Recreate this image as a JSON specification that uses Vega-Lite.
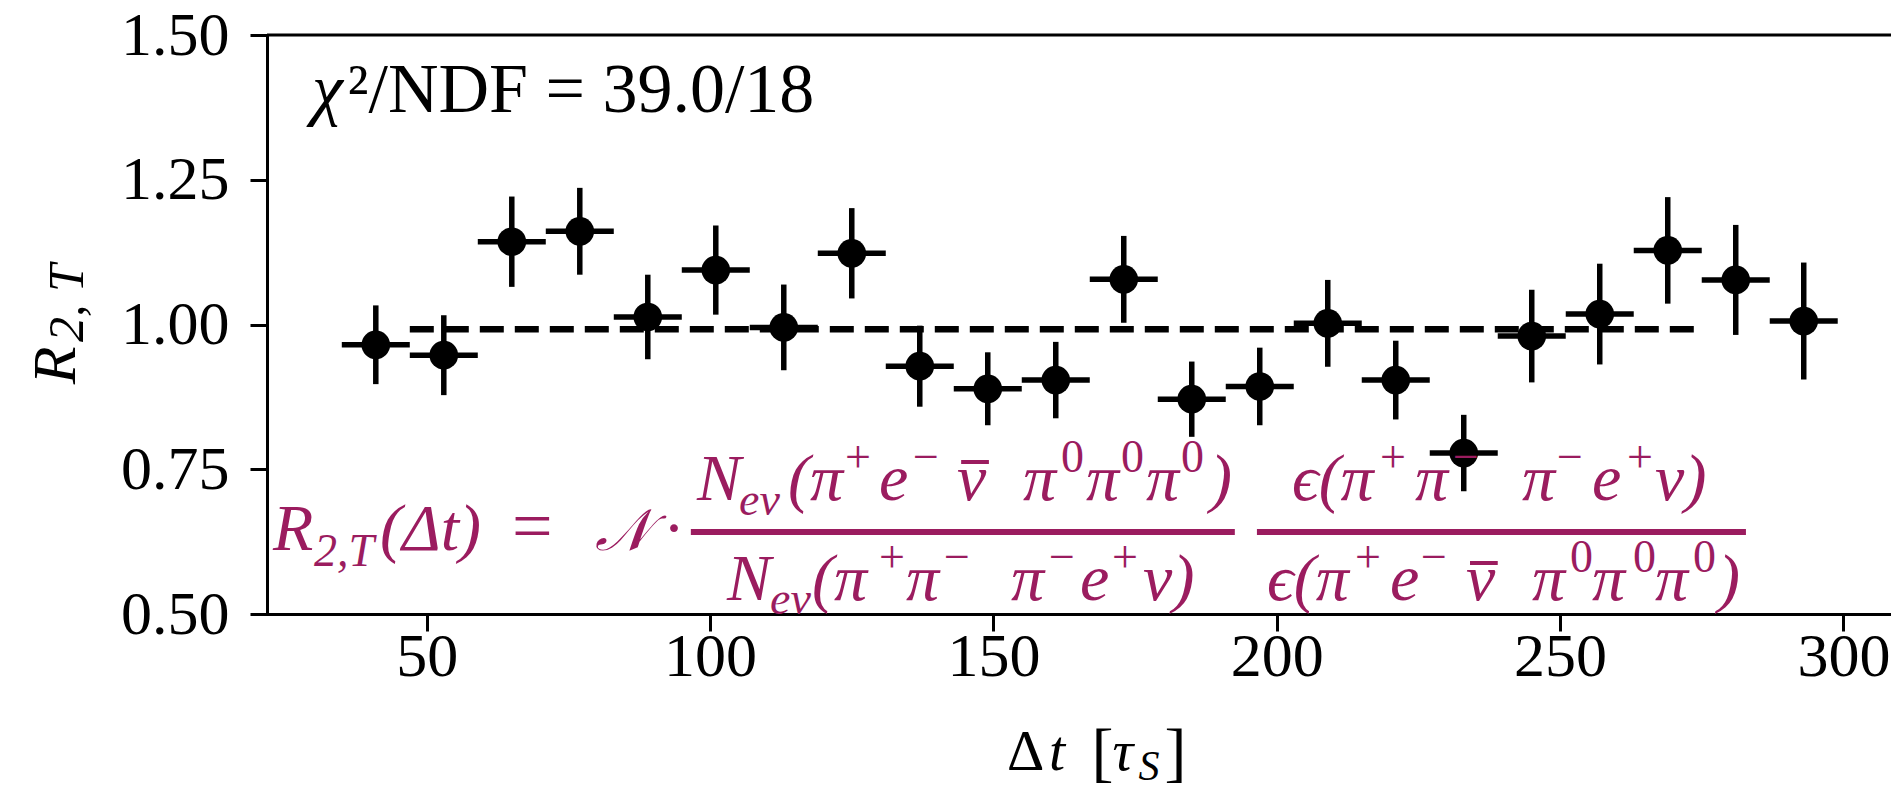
{
  "$schema": "https://vega.github.io/schema/vega-lite/v6.json",
  "autosize": {"type": "none"},
  "padding": {"left": 267, "top": 35, "right": 0, "bottom": 176},
  "width": 1624,
  "height": 579,
  "background": "white",
  "config": {
    "view": {"stroke": null},
    "axis": {
      "grid": false,
      "domainColor": "black",
      "domainWidth": 3,
      "domainCap": "square",
      "tickColor": "black",
      "tickWidth": 3,
      "tickSize": 17,
      "labelFont": "Liberation Serif",
      "labelFontSize": 62,
      "labelColor": "black",
      "labelFlush": false,
      "labelOverlap": false
    },
    "axisX": {"labelPadding": -5},
    "axisY": {"labelPadding": 21},
    "text": {"font": "Liberation Serif", "fontStyle": "italic", "fontSize": 66, "color": "#9b1c5f", "align": "left", "baseline": "alphabetic"}
  },
  "datasets": {
    "ratio": [
      {"t": 41, "dt": 6, "r": 0.965, "err": 0.068},
      {"t": 53, "dt": 6, "r": 0.947, "err": 0.069},
      {"t": 65, "dt": 6, "r": 1.143, "err": 0.078},
      {"t": 77, "dt": 6, "r": 1.161, "err": 0.075},
      {"t": 89, "dt": 6, "r": 1.013, "err": 0.073},
      {"t": 101, "dt": 6, "r": 1.094, "err": 0.077},
      {"t": 113, "dt": 6, "r": 0.995, "err": 0.074},
      {"t": 125, "dt": 6, "r": 1.123, "err": 0.078},
      {"t": 137, "dt": 6, "r": 0.928, "err": 0.070},
      {"t": 149, "dt": 6, "r": 0.889, "err": 0.063},
      {"t": 161, "dt": 6, "r": 0.904, "err": 0.066},
      {"t": 173, "dt": 6, "r": 1.078, "err": 0.075},
      {"t": 185, "dt": 6, "r": 0.871, "err": 0.065},
      {"t": 197, "dt": 6, "r": 0.893, "err": 0.067},
      {"t": 209, "dt": 6, "r": 1.002, "err": 0.075},
      {"t": 221, "dt": 6, "r": 0.904, "err": 0.068},
      {"t": 233, "dt": 6, "r": 0.778, "err": 0.066},
      {"t": 245, "dt": 6, "r": 0.980, "err": 0.080},
      {"t": 257, "dt": 6, "r": 1.018, "err": 0.087},
      {"t": 269, "dt": 6, "r": 1.128, "err": 0.092},
      {"t": 281, "dt": 6, "r": 1.077, "err": 0.095},
      {"t": 293, "dt": 6, "r": 1.006, "err": 0.101}
    ],
    "fit": [{"t0": 47, "t1": 275, "level": 0.992}],
    "one": [{}]
  },
  "layer": [
    {
      "data": {"name": "ratio"},
      "mark": {"type": "errorbar", "color": "black", "thickness": 5.5},
      "encoding": {
        "x": {"field": "t", "type": "quantitative", "scale": {"domain": [21.8, 308.4], "nice": false, "zero": false},
              "axis": {"values": [50, 100, 150, 200, 250, 300], "title": null}},
        "y": {"field": "r", "type": "quantitative", "scale": {"domain": [0.5, 1.5], "nice": false, "zero": false},
              "axis": {"values": [0.5, 0.75, 1.0, 1.25, 1.5], "format": ".2f", "title": null}},
        "yError": {"field": "err"}
      }
    },
    {
      "data": {"name": "ratio"},
      "mark": {"type": "errorbar", "color": "black", "thickness": 5.5},
      "encoding": {
        "x": {"field": "t", "type": "quantitative", "title": null},
        "xError": {"field": "dt"},
        "y": {"field": "r", "type": "quantitative", "title": null}
      }
    },
    {
      "data": {"name": "fit"},
      "mark": {"type": "rule", "color": "black", "strokeWidth": 6.5, "strokeDash": [24, 11]},
      "encoding": {
        "x": {"field": "t0", "type": "quantitative", "title": null},
        "x2": {"field": "t1"},
        "y": {"field": "level", "type": "quantitative", "title": null}
      }
    },
    {
      "data": {"name": "ratio"},
      "mark": {"type": "point", "shape": "circle", "filled": true, "size": 820, "color": "black", "opacity": 1},
      "encoding": {
        "x": {"field": "t", "type": "quantitative", "title": null},
        "y": {"field": "r", "type": "quantitative", "title": null}
      }
    },
    {"data": {"name": "one"}, "mark": {"type": "rule", "color": "black", "strokeWidth": 3},
     "encoding": {"y": {"datum": 1.5, "type": "quantitative", "title": null}}},

    {"data": {"name": "one"}, "mark": {"type": "text", "text": "χ", "fontSize": 70, "color": "black"},
     "encoding": {"x": {"datum": 29.74, "type": "quantitative", "title": null}, "y": {"datum": 1.367, "type": "quantitative", "title": null}}},
    {"data": {"name": "one"}, "mark": {"type": "text", "text": "²/NDF = 39.0/18", "fontStyle": "normal", "fontSize": 70, "color": "black"},
     "encoding": {"x": {"datum": 36.0, "type": "quantitative", "title": null}, "y": {"datum": 1.367, "type": "quantitative", "title": null}}},

    {"data": {"name": "one"}, "mark": {"type": "text", "text": "R", "angle": 270, "fontSize": 62, "color": "black"},
     "encoding": {"x": {"datum": -12.09, "type": "quantitative", "title": null}, "y": {"datum": 0.897, "type": "quantitative", "title": null}}},
    {"data": {"name": "one"}, "mark": {"type": "text", "text": "2, T", "angle": 270, "fontSize": 50, "color": "black"},
     "encoding": {"x": {"datum": -10.67, "type": "quantitative", "title": null}, "y": {"datum": 0.9698, "type": "quantitative", "title": null}}},

    {"data": {"name": "one"}, "mark": {"type": "text", "text": "Δ", "fontStyle": "normal", "fontSize": 58, "color": "black"},
     "encoding": {"x": {"datum": 152.4, "type": "quantitative", "title": null}, "y": {"datum": 0.2306, "type": "quantitative", "title": null}}},
    {"data": {"name": "one"}, "mark": {"type": "text", "text": "t", "fontSize": 58, "color": "black"},
     "encoding": {"x": {"datum": 159.8, "type": "quantitative", "title": null}, "y": {"datum": 0.2306, "type": "quantitative", "title": null}}},
    {"data": {"name": "one"}, "mark": {"type": "text", "text": "[", "fontStyle": "normal", "fontSize": 66, "color": "black"},
     "encoding": {"x": {"datum": 167.3, "type": "quantitative", "title": null}, "y": {"datum": 0.2237, "type": "quantitative", "title": null}}},
    {"data": {"name": "one"}, "mark": {"type": "text", "text": "τ", "fontSize": 58, "color": "black"},
     "encoding": {"x": {"datum": 171.0, "type": "quantitative", "title": null}, "y": {"datum": 0.2306, "type": "quantitative", "title": null}}},
    {"data": {"name": "one"}, "mark": {"type": "text", "text": "S", "fontSize": 42, "color": "black"},
     "encoding": {"x": {"datum": 175.6, "type": "quantitative", "title": null}, "y": {"datum": 0.2133, "type": "quantitative", "title": null}}},
    {"data": {"name": "one"}, "mark": {"type": "text", "text": "]", "fontStyle": "normal", "fontSize": 66, "color": "black"},
     "encoding": {"x": {"datum": 180.2, "type": "quantitative", "title": null}, "y": {"datum": 0.2237, "type": "quantitative", "title": null}}},

    {"data": {"name": "one"}, "mark": {"type": "text", "text": "R"},
     "encoding": {"x": {"datum": 22.86, "type": "quantitative", "title": null}, "y": {"datum": 0.6105, "type": "quantitative", "title": null}}},
    {"data": {"name": "one"}, "mark": {"type": "text", "text": "2,T", "fontSize": 46},
     "encoding": {"x": {"datum": 30.1, "type": "quantitative", "title": null}, "y": {"datum": 0.5829, "type": "quantitative", "title": null}}},
    {"data": {"name": "one"}, "mark": {"type": "text", "text": "(Δt)"},
     "encoding": {"x": {"datum": 41.74, "type": "quantitative", "title": null}, "y": {"datum": 0.6105, "type": "quantitative", "title": null}}},
    {"data": {"name": "one"}, "mark": {"type": "text", "text": "=", "fontStyle": "normal", "fontSize": 72},
     "encoding": {"x": {"datum": 65.04, "type": "quantitative", "title": null}, "y": {"datum": 0.6105, "type": "quantitative", "title": null}}},
    {"data": {"name": "one"}, "mark": {"type": "text", "text": "𝒩", "fontSize": 58},
     "encoding": {"x": {"datum": 79.69, "type": "quantitative", "title": null}, "y": {"datum": 0.6105, "type": "quantitative", "title": null}}},
    {"data": {"name": "one"}, "mark": {"type": "text", "text": "·", "fontStyle": "normal"},
     "encoding": {"x": {"datum": 91.69, "type": "quantitative", "title": null}, "y": {"datum": 0.6105, "type": "quantitative", "title": null}}},

    {"data": {"name": "one"}, "mark": {"type": "rule", "color": "#9b1c5f", "strokeWidth": 6},
     "encoding": {"x": {"datum": 96.6, "type": "quantitative", "title": null}, "x2": {"datum": 192.6}, "y": {"datum": 0.6416, "type": "quantitative", "title": null}}},
    {"data": {"name": "one"}, "mark": {"type": "rule", "color": "#9b1c5f", "strokeWidth": 6},
     "encoding": {"x": {"datum": 196.5, "type": "quantitative", "title": null}, "x2": {"datum": 282.8}, "y": {"datum": 0.6416, "type": "quantitative", "title": null}}},

    {"data": {"name": "one"}, "mark": {"type": "text", "text": "N"},
     "encoding": {"x": {"datum": 97.69, "type": "quantitative", "title": null}, "y": {"datum": 0.6969, "type": "quantitative", "title": null}}},
    {"data": {"name": "one"}, "mark": {"type": "text", "text": "ev", "fontSize": 46},
     "encoding": {"x": {"datum": 105.1, "type": "quantitative", "title": null}, "y": {"datum": 0.671, "type": "quantitative", "title": null}}},
    {"data": {"name": "one"}, "mark": {"type": "text", "text": "(π"},
     "encoding": {"x": {"datum": 113.75, "type": "quantitative", "title": null}, "y": {"datum": 0.6969, "type": "quantitative", "title": null}}},
    {"data": {"name": "one"}, "mark": {"type": "text", "text": "+", "fontSize": 46, "fontStyle": "normal"},
     "encoding": {"x": {"datum": 123.81, "type": "quantitative", "title": null}, "y": {"datum": 0.7453, "type": "quantitative", "title": null}}},
    {"data": {"name": "one"}, "mark": {"type": "text", "text": "e"},
     "encoding": {"x": {"datum": 129.81, "type": "quantitative", "title": null}, "y": {"datum": 0.6969, "type": "quantitative", "title": null}}},
    {"data": {"name": "one"}, "mark": {"type": "text", "text": "−", "fontSize": 46, "fontStyle": "normal"},
     "encoding": {"x": {"datum": 135.81, "type": "quantitative", "title": null}, "y": {"datum": 0.7453, "type": "quantitative", "title": null}}},
    {"data": {"name": "one"}, "mark": {"type": "text", "text": "ν"},
     "encoding": {"x": {"datum": 143.58, "type": "quantitative", "title": null}, "y": {"datum": 0.6969, "type": "quantitative", "title": null}}},
    {"data": {"name": "one"}, "mark": {"type": "rule", "color": "#9b1c5f", "strokeWidth": 4},
     "encoding": {"x": {"datum": 144.3, "type": "quantitative", "title": null}, "x2": {"datum": 149.2}, "y": {"datum": 0.7625, "type": "quantitative", "title": null}}},
    {"data": {"name": "one"}, "mark": {"type": "text", "text": "π"},
     "encoding": {"x": {"datum": 155.23, "type": "quantitative", "title": null}, "y": {"datum": 0.6969, "type": "quantitative", "title": null}}},
    {"data": {"name": "one"}, "mark": {"type": "text", "text": "0", "fontSize": 46, "fontStyle": "normal"},
     "encoding": {"x": {"datum": 161.93, "type": "quantitative", "title": null}, "y": {"datum": 0.7453, "type": "quantitative", "title": null}}},
    {"data": {"name": "one"}, "mark": {"type": "text", "text": "π"},
     "encoding": {"x": {"datum": 166.35, "type": "quantitative", "title": null}, "y": {"datum": 0.6969, "type": "quantitative", "title": null}}},
    {"data": {"name": "one"}, "mark": {"type": "text", "text": "0", "fontSize": 46, "fontStyle": "normal"},
     "encoding": {"x": {"datum": 172.52, "type": "quantitative", "title": null}, "y": {"datum": 0.7453, "type": "quantitative", "title": null}}},
    {"data": {"name": "one"}, "mark": {"type": "text", "text": "π"},
     "encoding": {"x": {"datum": 176.93, "type": "quantitative", "title": null}, "y": {"datum": 0.6969, "type": "quantitative", "title": null}}},
    {"data": {"name": "one"}, "mark": {"type": "text", "text": "0", "fontSize": 46, "fontStyle": "normal"},
     "encoding": {"x": {"datum": 183.11, "type": "quantitative", "title": null}, "y": {"datum": 0.7453, "type": "quantitative", "title": null}}},
    {"data": {"name": "one"}, "mark": {"type": "text", "text": ")"},
     "encoding": {"x": {"datum": 188.23, "type": "quantitative", "title": null}, "y": {"datum": 0.6969, "type": "quantitative", "title": null}}},

    {"data": {"name": "one"}, "mark": {"type": "text", "text": "N"},
     "encoding": {"x": {"datum": 102.99, "type": "quantitative", "title": null}, "y": {"datum": 0.5242, "type": "quantitative", "title": null}}},
    {"data": {"name": "one"}, "mark": {"type": "text", "text": "ev", "fontSize": 46},
     "encoding": {"x": {"datum": 110.57, "type": "quantitative", "title": null}, "y": {"datum": 0.5, "type": "quantitative", "title": null}}},
    {"data": {"name": "one"}, "mark": {"type": "text", "text": "(π"},
     "encoding": {"x": {"datum": 117.99, "type": "quantitative", "title": null}, "y": {"datum": 0.5242, "type": "quantitative", "title": null}}},
    {"data": {"name": "one"}, "mark": {"type": "text", "text": "+", "fontSize": 46, "fontStyle": "normal"},
     "encoding": {"x": {"datum": 129.81, "type": "quantitative", "title": null}, "y": {"datum": 0.5725, "type": "quantitative", "title": null}}},
    {"data": {"name": "one"}, "mark": {"type": "text", "text": "π"},
     "encoding": {"x": {"datum": 134.58, "type": "quantitative", "title": null}, "y": {"datum": 0.5242, "type": "quantitative", "title": null}}},
    {"data": {"name": "one"}, "mark": {"type": "text", "text": "−", "fontSize": 46, "fontStyle": "normal"},
     "encoding": {"x": {"datum": 141.28, "type": "quantitative", "title": null}, "y": {"datum": 0.5725, "type": "quantitative", "title": null}}},
    {"data": {"name": "one"}, "mark": {"type": "text", "text": "π"},
     "encoding": {"x": {"datum": 153.11, "type": "quantitative", "title": null}, "y": {"datum": 0.5242, "type": "quantitative", "title": null}}},
    {"data": {"name": "one"}, "mark": {"type": "text", "text": "−", "fontSize": 46, "fontStyle": "normal"},
     "encoding": {"x": {"datum": 159.82, "type": "quantitative", "title": null}, "y": {"datum": 0.5725, "type": "quantitative", "title": null}}},
    {"data": {"name": "one"}, "mark": {"type": "text", "text": "e"},
     "encoding": {"x": {"datum": 165.29, "type": "quantitative", "title": null}, "y": {"datum": 0.5242, "type": "quantitative", "title": null}}},
    {"data": {"name": "one"}, "mark": {"type": "text", "text": "+", "fontSize": 46, "fontStyle": "normal"},
     "encoding": {"x": {"datum": 170.93, "type": "quantitative", "title": null}, "y": {"datum": 0.5725, "type": "quantitative", "title": null}}},
    {"data": {"name": "one"}, "mark": {"type": "text", "text": "ν)"},
     "encoding": {"x": {"datum": 176.41, "type": "quantitative", "title": null}, "y": {"datum": 0.5242, "type": "quantitative", "title": null}}},

    {"data": {"name": "one"}, "mark": {"type": "text", "text": "ϵ(π"},
     "encoding": {"x": {"datum": 202.7, "type": "quantitative", "title": null}, "y": {"datum": 0.6969, "type": "quantitative", "title": null}}},
    {"data": {"name": "one"}, "mark": {"type": "text", "text": "+", "fontSize": 46, "fontStyle": "normal"},
     "encoding": {"x": {"datum": 218.23, "type": "quantitative", "title": null}, "y": {"datum": 0.7453, "type": "quantitative", "title": null}}},
    {"data": {"name": "one"}, "mark": {"type": "text", "text": "π"},
     "encoding": {"x": {"datum": 224.41, "type": "quantitative", "title": null}, "y": {"datum": 0.6969, "type": "quantitative", "title": null}}},
    {"data": {"name": "one"}, "mark": {"type": "text", "text": "−", "fontSize": 46, "fontStyle": "normal"},
     "encoding": {"x": {"datum": 231.12, "type": "quantitative", "title": null}, "y": {"datum": 0.7453, "type": "quantitative", "title": null}}},
    {"data": {"name": "one"}, "mark": {"type": "text", "text": "π"},
     "encoding": {"x": {"datum": 243.3, "type": "quantitative", "title": null}, "y": {"datum": 0.6969, "type": "quantitative", "title": null}}},
    {"data": {"name": "one"}, "mark": {"type": "text", "text": "−", "fontSize": 46, "fontStyle": "normal"},
     "encoding": {"x": {"datum": 249.47, "type": "quantitative", "title": null}, "y": {"datum": 0.7453, "type": "quantitative", "title": null}}},
    {"data": {"name": "one"}, "mark": {"type": "text", "text": "e"},
     "encoding": {"x": {"datum": 255.65, "type": "quantitative", "title": null}, "y": {"datum": 0.6969, "type": "quantitative", "title": null}}},
    {"data": {"name": "one"}, "mark": {"type": "text", "text": "+", "fontSize": 46, "fontStyle": "normal"},
     "encoding": {"x": {"datum": 261.83, "type": "quantitative", "title": null}, "y": {"datum": 0.7453, "type": "quantitative", "title": null}}},
    {"data": {"name": "one"}, "mark": {"type": "text", "text": "ν)"},
     "encoding": {"x": {"datum": 266.77, "type": "quantitative", "title": null}, "y": {"datum": 0.6969, "type": "quantitative", "title": null}}},

    {"data": {"name": "one"}, "mark": {"type": "text", "text": "ϵ(π"},
     "encoding": {"x": {"datum": 198.29, "type": "quantitative", "title": null}, "y": {"datum": 0.5242, "type": "quantitative", "title": null}}},
    {"data": {"name": "one"}, "mark": {"type": "text", "text": "+", "fontSize": 46, "fontStyle": "normal"},
     "encoding": {"x": {"datum": 213.82, "type": "quantitative", "title": null}, "y": {"datum": 0.5725, "type": "quantitative", "title": null}}},
    {"data": {"name": "one"}, "mark": {"type": "text", "text": "e"},
     "encoding": {"x": {"datum": 220.0, "type": "quantitative", "title": null}, "y": {"datum": 0.5242, "type": "quantitative", "title": null}}},
    {"data": {"name": "one"}, "mark": {"type": "text", "text": "−", "fontSize": 46, "fontStyle": "normal"},
     "encoding": {"x": {"datum": 225.47, "type": "quantitative", "title": null}, "y": {"datum": 0.5725, "type": "quantitative", "title": null}}},
    {"data": {"name": "one"}, "mark": {"type": "text", "text": "ν"},
     "encoding": {"x": {"datum": 233.41, "type": "quantitative", "title": null}, "y": {"datum": 0.5242, "type": "quantitative", "title": null}}},
    {"data": {"name": "one"}, "mark": {"type": "rule", "color": "#9b1c5f", "strokeWidth": 4},
     "encoding": {"x": {"datum": 234.1, "type": "quantitative", "title": null}, "x2": {"datum": 239.0}, "y": {"datum": 0.5881, "type": "quantitative", "title": null}}},
    {"data": {"name": "one"}, "mark": {"type": "text", "text": "π"},
     "encoding": {"x": {"datum": 245.06, "type": "quantitative", "title": null}, "y": {"datum": 0.5242, "type": "quantitative", "title": null}}},
    {"data": {"name": "one"}, "mark": {"type": "text", "text": "0", "fontSize": 46, "fontStyle": "normal"},
     "encoding": {"x": {"datum": 251.77, "type": "quantitative", "title": null}, "y": {"datum": 0.5725, "type": "quantitative", "title": null}}},
    {"data": {"name": "one"}, "mark": {"type": "text", "text": "π"},
     "encoding": {"x": {"datum": 255.65, "type": "quantitative", "title": null}, "y": {"datum": 0.5242, "type": "quantitative", "title": null}}},
    {"data": {"name": "one"}, "mark": {"type": "text", "text": "0", "fontSize": 46, "fontStyle": "normal"},
     "encoding": {"x": {"datum": 262.89, "type": "quantitative", "title": null}, "y": {"datum": 0.5725, "type": "quantitative", "title": null}}},
    {"data": {"name": "one"}, "mark": {"type": "text", "text": "π"},
     "encoding": {"x": {"datum": 266.77, "type": "quantitative", "title": null}, "y": {"datum": 0.5242, "type": "quantitative", "title": null}}},
    {"data": {"name": "one"}, "mark": {"type": "text", "text": "0", "fontSize": 46, "fontStyle": "normal"},
     "encoding": {"x": {"datum": 273.47, "type": "quantitative", "title": null}, "y": {"datum": 0.5725, "type": "quantitative", "title": null}}},
    {"data": {"name": "one"}, "mark": {"type": "text", "text": ")"},
     "encoding": {"x": {"datum": 277.89, "type": "quantitative", "title": null}, "y": {"datum": 0.5242, "type": "quantitative", "title": null}}}
  ]
}
